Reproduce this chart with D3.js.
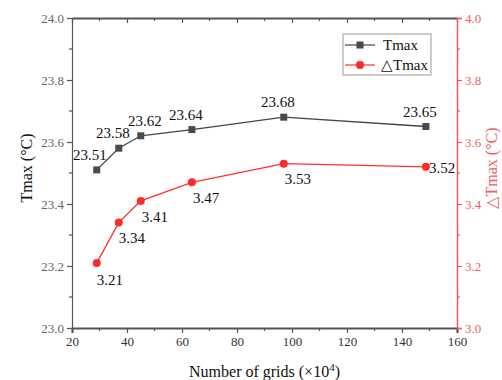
<!DOCTYPE html>
<html><head><meta charset="utf-8">
<script src="https://cdn.jsdelivr.net/npm/d3@7"></script>
<style>body{margin:0;background:#fff}</style>
</head><body><svg id="c" width="502" height="380"></svg>
<script>
const grids = [29, 37, 45, 63.6, 97, 148.7];
const tmax = [23.51, 23.58, 23.62, 23.64, 23.68, 23.65];
const dtmax = [3.21, 3.34, 3.41, 3.47, 3.53, 3.52];
const xTicks = [20, 40, 60, 80, 100, 120, 140, 160];
const yLeftTicks = [23.0, 23.2, 23.4, 23.6, 23.8, 24.0];
const yRightTicks = [3.0, 3.2, 3.4, 3.6, 3.8, 4.0];
const seriesNames = ["Tmax", "\u25B3Tmax"];
const xTitle = "Number of grids (\u00D710";
const yLeftTitle = "Tmax (\u00B0C)";
const yRightTitle = "\u25B3Tmax (\u00B0C)";

// layout-only label offsets
const tLabelOff = [[-7,-10],[-6,-10],[4,-10],[-6,-10],[-6,-10],[-6,-10]];
const dLabelOff = [[0,22],[0,20],[1,21],[1,21],[1,20],[3,6]];

const FONT = "'Liberation Serif', 'Times New Roman', Times, serif";
const L=72,R=457,T=18,B=328;
const svg=d3.select("#c");
const x=d3.scaleLinear().domain([20,160]).range([L,R]);
const yl=d3.scaleLinear().domain([23,24]).range([B,T]);
const yr=d3.scaleLinear().domain([3,4]).range([B,T]);
const gray="#555", red="#f25a5a", redLine="#ff3030", redText="#f06060", dark="#444";

// bottom axis
const bx=svg.append("g").attr("transform",`translate(0,${B})`)
 .call(d3.axisBottom(x).tickValues(xTicks).tickFormat(d3.format("d")).tickSize(5).tickPadding(4));
bx.select(".domain").attr("stroke",gray).attr("stroke-width",2);
bx.selectAll(".tick line").attr("stroke",gray).attr("stroke-width",1.2);
bx.selectAll("text").attr("font-size",13).attr("fill","#333");
const xMinor=d3.range(30,160,20);
svg.append("g").selectAll("line").data(xMinor).join("line")
 .attr("x1",d=>x(d)).attr("x2",d=>x(d)).attr("y1",B).attr("y2",B+3).attr("stroke",gray).attr("stroke-width",1.2);
// top axis (inward ticks)
const tx=svg.append("g").attr("transform",`translate(0,${T})`)
 .call(d3.axisTop(x).tickValues(xTicks).tickFormat("").tickSizeInner(-5).tickSizeOuter(0));
tx.select(".domain").attr("stroke",gray).attr("stroke-width",2);
tx.selectAll(".tick line").attr("stroke",gray).attr("stroke-width",1.2);
svg.append("g").selectAll("line").data(xMinor).join("line")
 .attr("x1",d=>x(d)).attr("x2",d=>x(d)).attr("y1",T).attr("y2",T+3).attr("stroke",gray).attr("stroke-width",1.2);

// left axis
const ly=svg.append("g").attr("transform",`translate(${L},0)`)
 .call(d3.axisLeft(yl).tickValues(yLeftTicks).tickFormat(d3.format(".1f")).tickSize(5).tickPadding(3));
ly.select(".domain").attr("stroke",gray).attr("stroke-width",1.2);
ly.selectAll(".tick line").attr("stroke",gray).attr("stroke-width",1.2);
ly.selectAll("text").attr("font-size",13).attr("fill","#666");
const ylMinor=[23.1,23.3,23.5,23.7,23.9];
svg.append("g").selectAll("line").data(ylMinor).join("line")
 .attr("x1",L-3).attr("x2",L).attr("y1",d=>yl(d)).attr("y2",d=>yl(d)).attr("stroke",gray).attr("stroke-width",1.2);

// right axis
const ry=svg.append("g").attr("transform",`translate(${R},0)`)
 .call(d3.axisRight(yr).tickValues(yRightTicks).tickFormat(d3.format(".1f")).tickSize(5).tickPadding(3));
ry.select(".domain").attr("stroke",red).attr("stroke-width",1.5);
ry.selectAll(".tick line").attr("stroke",red).attr("stroke-width",1.2);
ry.selectAll("text").attr("font-size",13).attr("fill",redText);
const yrMinor=[3.1,3.3,3.5,3.7,3.9];
svg.append("g").selectAll("line").data(yrMinor).join("line")
 .attr("x1",R).attr("x2",R+3).attr("y1",d=>yr(d)).attr("y2",d=>yr(d)).attr("stroke",red).attr("stroke-width",1.2);

// titles
const xt=svg.append("text").attr("x",(L+R)/2).attr("y",377).attr("text-anchor","middle").attr("font-size",16).attr("fill","#111").text(xTitle);
xt.append("tspan").attr("dy",-6).attr("font-size",11).text("4");
xt.append("tspan").attr("dy",6).text(")");
svg.append("text").attr("transform",`translate(32,168) rotate(-90)`).attr("text-anchor","middle").attr("font-size",16).attr("fill","#111").text(yLeftTitle);
svg.append("text").attr("transform",`translate(497,168) rotate(-90)`).attr("text-anchor","middle").attr("font-size",16).attr("fill",redText).text(yRightTitle);

// series
const tData=grids.map((g,i)=>({x:g,y:tmax[i],i}));
const dData=grids.map((g,i)=>({x:g,y:dtmax[i],i}));
svg.append("path").datum(tData).attr("fill","none").attr("stroke",dark).attr("stroke-width",1.3)
 .attr("d",d3.line().x(d=>x(d.x)).y(d=>yl(d.y)));
svg.append("path").datum(dData).attr("fill","none").attr("stroke",redLine).attr("stroke-width",1.3)
 .attr("d",d3.line().x(d=>x(d.x)).y(d=>yr(d.y)));
svg.append("g").selectAll("rect").data(tData).join("rect")
 .attr("x",d=>x(d.x)-3.5).attr("y",d=>yl(d.y)-3.5).attr("width",7).attr("height",7).attr("fill","#4a4a4a");
svg.append("g").selectAll("circle").data(dData).join("circle")
 .attr("cx",d=>x(d.x)).attr("cy",d=>yr(d.y)).attr("r",4).attr("fill","#ff2a2a");

// data labels
svg.append("g").selectAll("text").data(tData).join("text")
 .attr("x",d=>x(d.x)+tLabelOff[d.i][0]).attr("y",d=>yl(d.y)+tLabelOff[d.i][1])
 .attr("text-anchor","middle").attr("font-size",15).attr("fill","#111").text(d=>d3.format(".2f")(d.y));
svg.append("g").selectAll("text").data(dData).join("text")
 .attr("x",d=>x(d.x)+dLabelOff[d.i][0]).attr("y",d=>yr(d.y)+dLabelOff[d.i][1])
 .attr("text-anchor","start").attr("font-size",15).attr("fill","#111").text(d=>d3.format(".2f")(d.y));

// legend
const lg=svg.append("g");
lg.append("rect").attr("x",343).attr("y",34).attr("width",88).attr("height",41).attr("fill","#fff").attr("stroke","#999").attr("stroke-width",1);
lg.append("line").attr("x1",345).attr("x2",375).attr("y1",45).attr("y2",45).attr("stroke",dark).attr("stroke-width",1.2);
lg.append("rect").attr("x",356.5).attr("y",41.5).attr("width",7).attr("height",7).attr("fill","#4a4a4a");
lg.append("text").attr("x",383).attr("y",50).attr("font-size",15).attr("fill","#111").text(seriesNames[0]);
lg.append("line").attr("x1",345).attr("x2",375).attr("y1",65).attr("y2",65).attr("stroke",redLine).attr("stroke-width",1.2);
lg.append("circle").attr("cx",360).attr("cy",65).attr("r",4).attr("fill","#ff2a2a");
lg.append("text").attr("x",381).attr("y",70).attr("font-size",15).attr("fill","#111").text(seriesNames[1]);

svg.selectAll("g").attr("font-family",FONT);
svg.selectAll("text").attr("font-family",FONT).style("font-family",FONT);
</script></body></html>
